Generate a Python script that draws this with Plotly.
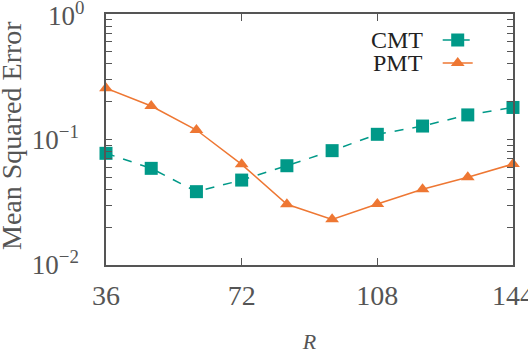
import math
import plotly.graph_objects as go

R = [36, 48, 60, 72, 84, 96, 108, 120, 132, 144]
cmt = [0.0776, 0.0589, 0.0384, 0.0475, 0.0618, 0.0815, 0.110, 0.128, 0.157, 0.180]
pmt = [0.256, 0.185, 0.119, 0.0634, 0.0305, 0.0231, 0.0306, 0.0401, 0.050, 0.0638]
xticks = [36, 72, 108, 144]
yticks = [0.01, 0.1, 1]
yticktext = ["10<sup>\u22122</sup>", "10<sup>\u22121</sup>", "10<sup>0</sup>"]
minor_y = [k * 10.0 ** e for e in (-2, -1) for k in range(2, 10)]

TEAL = "#009988"
ORANGE = "#EE7733"
AX = "#555555"
FONT = "Liberation Serif, DejaVu Serif, serif"

# top label (at the edge of the plot) drawn as annotation so it is not hidden
all_ytick = yticks + minor_y
all_ytext = yticktext[:-1] + [""] + [""] * len(minor_y)

fig = go.Figure()
fig.add_trace(go.Scatter(x=R, y=cmt, name=" ", mode="lines+markers", legend="legend",
                         line=dict(color=TEAL, width=1.5, dash="dash"),
                         marker=dict(symbol="square", size=13, color=TEAL),
                         cliponaxis=False))
fig.add_trace(go.Scatter(x=R, y=pmt, name=" ", mode="lines+markers", legend="legend2",
                         line=dict(color=ORANGE, width=1.5),
                         marker=dict(symbol="triangle-up", size=12, color=ORANGE),
                         cliponaxis=False))

leg = dict(xanchor="left", yanchor="middle", bgcolor="rgba(0,0,0,0)",
           font=dict(size=12, family=FONT), itemwidth=30, borderwidth=0)
fig.update_layout(
    width=528, height=354,
    margin=dict(l=106, r=15, t=14, b=89),
    plot_bgcolor="white", paper_bgcolor="white",
    font=dict(family=FONT, color=AX),
    showlegend=True,
    legend=dict(leg, x=0.815, y=0.896),
    legend2=dict(leg, x=0.815, y=0.805),
    annotations=[
        dict(text="CMT", x=0.784, y=0.896, xref="paper", yref="paper",
             xanchor="right", yanchor="middle", showarrow=False,
             font=dict(size=24, family=FONT, color="#222")),
        dict(text="PMT", x=0.784, y=0.805, xref="paper", yref="paper",
             xanchor="right", yanchor="middle", showarrow=False,
             font=dict(size=24, family=FONT, color="#222")),
        dict(text="Mean Squared Error", x=-0.231, y=0.518, xref="paper", yref="paper",
             xanchor="center", yanchor="middle", textangle=-90, showarrow=False,
             font=dict(size=28, family=FONT, color=AX)),
        dict(text=yticktext[-1], x=-0.05, y=math.log10(yticks[-1]), xref="paper", yref="y",
             xanchor="right", yanchor="middle", showarrow=False,
             font=dict(size=27, family=FONT, color=AX)),
    ],
)
fig.update_xaxes(range=[36, 144], tickvals=xticks, ticktext=[str(v) for v in xticks],
                 ticks="inside", ticklen=7, tickcolor=AX, showgrid=False, zeroline=False,
                 showline=True, linecolor=AX, linewidth=1.5, mirror="ticks", automargin=False,
                 ticklabeloverflow="allow",
                 tickfont=dict(size=28, family=FONT, color=AX), ticklabelstandoff=5,
                 title=dict(text="<i>R</i>", font=dict(size=22, family=FONT, color=AX), standoff=29))
fig.update_yaxes(type="log", range=[-2, 0], tickvals=all_ytick, ticktext=all_ytext,
                 ticks="inside", ticklen=6, tickcolor=AX, showgrid=False, zeroline=False,
                 showline=True, linecolor=AX, linewidth=1.5, mirror="ticks", automargin=False,
                 tickfont=dict(size=27, family=FONT, color=AX), ticklabelstandoff=20)

fig.write_html("out.html")
